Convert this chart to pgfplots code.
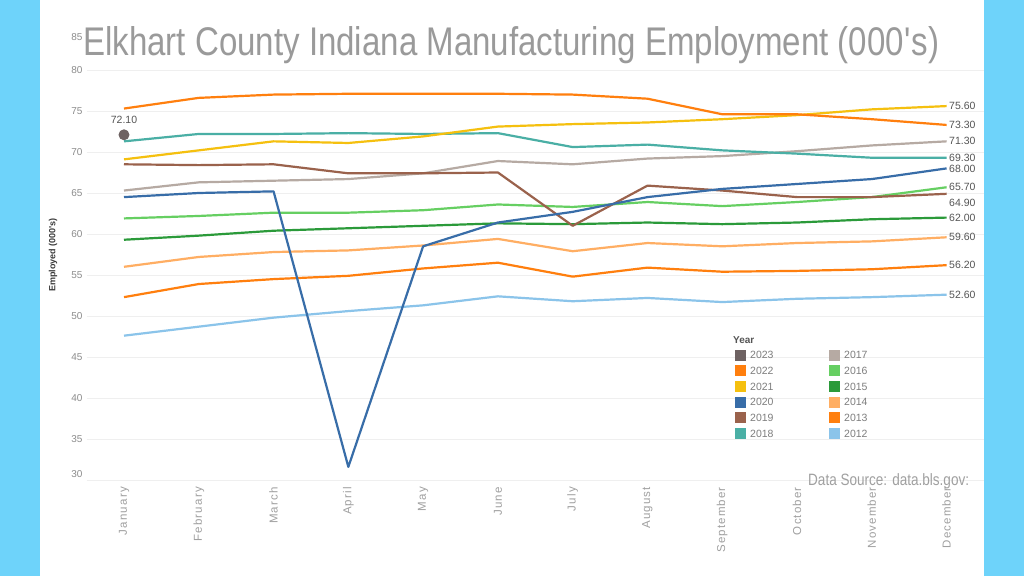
\documentclass[border=0pt]{standalone}
\usepackage{pgfplots}
\pgfplotsset{compat=1.18}
\usepackage{fontspec}
\setmainfont{Liberation Sans}
\newfontfamily\narrowfont[FakeStretch=0.826]{Liberation Sans}
\newfontfamily\monthfont[LetterSpace=10]{Liberation Sans}

\definecolor{frame}{HTML}{6ED3FA}
\definecolor{gridgray}{HTML}{EFEFEF}
\definecolor{tickgray}{HTML}{8C8C8C}
\definecolor{monthgray}{HTML}{A0A0A0}
\definecolor{titlegray}{HTML}{9A9A9A}
\definecolor{labelgray}{HTML}{555555}
\definecolor{c2023}{HTML}{6E6262}
\definecolor{c2022}{HTML}{FF7F0E}
\definecolor{c2021}{HTML}{F5C00F}
\definecolor{c2020}{HTML}{386DA8}
\definecolor{c2019}{HTML}{9A624C}
\definecolor{c2018}{HTML}{4AAFA5}
\definecolor{c2017}{HTML}{B6AAA3}
\definecolor{c2016}{HTML}{66CF62}
\definecolor{c2015}{HTML}{2B9A3A}
\definecolor{c2014}{HTML}{FFAE63}
\definecolor{c2013}{HTML}{FF7F0E}
\definecolor{c2012}{HTML}{8BC4EA}

\newcommand{\lblfont}{\fontsize{10.5}{12}\selectfont}

\begin{document}
\begin{tikzpicture}[x=1pt,y=1pt]
\useasboundingbox (0,0) rectangle (1024,576);
\fill[frame] (0,0) rectangle (1024,576);
\fill[white] (40,0) rectangle (984,576);

\begin{axis}[
    at={(86.6pt,96pt)}, anchor=south west,
    scale only axis, width=897.4pt, height=451pt,
    xmin=-0.5, xmax=11.5, ymin=30, ymax=85,
    axis line style={draw=none},
    major tick length=0pt,
    ymajorgrids,
    grid style={draw=gridgray, line width=0.8pt},
    xtick={0,...,11},
    xticklabels={January,February,March,April,May,June,July,August,September,October,November,December},
    xticklabel style={rotate=90, anchor=east, inner sep=0pt,
        font=\monthfont\fontsize{11.5}{13}\selectfont, text=monthgray},
    xticklabel shift=7pt,
    ytick={30,35,...,80},
    yticklabels={,35,40,45,50,55,60,65,70,75,80},
    extra y ticks={85},
    extra y tick labels={85},
    extra y tick style={grid=none, yticklabel style={yshift=-8pt}},
    yticklabel style={font=\fontsize{10}{12}\selectfont, text=tickgray, inner sep=0pt},
    yticklabel shift=4pt,
    every axis plot/.append style={line width=2.2pt, line join=round},
    clip=false,
]

% 2012
\addplot[c2012] coordinates {
 (0,47.6) (1,48.7) (2,49.8) (3,50.6) (4,51.3) (5,52.4)
 (6,51.8) (7,52.2) (8,51.7) (9,52.1) (10,52.3) (11,52.6)
} node[pos=1, anchor=west, inner sep=1.5pt, font=\lblfont, text=labelgray] {52.60};
% 2013
\addplot[c2013] coordinates {
 (0,52.3) (1,53.9) (2,54.5) (3,54.9) (4,55.8) (5,56.5)
 (6,54.8) (7,55.9) (8,55.4) (9,55.5) (10,55.7) (11,56.2)
} node[pos=1, anchor=west, inner sep=1.5pt, font=\lblfont, text=labelgray] {56.20};
% 2014
\addplot[c2014] coordinates {
 (0,56.0) (1,57.2) (2,57.8) (3,58.0) (4,58.6) (5,59.4)
 (6,57.9) (7,58.9) (8,58.5) (9,58.9) (10,59.1) (11,59.6)
} node[pos=1, anchor=west, inner sep=1.5pt, font=\lblfont, text=labelgray] {59.60};
% 2015
\addplot[c2015] coordinates {
 (0,59.3) (1,59.8) (2,60.4) (3,60.7) (4,61.0) (5,61.3)
 (6,61.2) (7,61.4) (8,61.2) (9,61.4) (10,61.8) (11,62.0)
} node[pos=1, anchor=west, inner sep=1.5pt, font=\lblfont, text=labelgray] {62.00};
% 2016
\addplot[c2016] coordinates {
 (0,61.9) (1,62.2) (2,62.6) (3,62.6) (4,62.9) (5,63.6)
 (6,63.3) (7,63.9) (8,63.4) (9,63.9) (10,64.5) (11,65.7)
} node[pos=1, anchor=west, inner sep=1.5pt, font=\lblfont, text=labelgray] {65.70};
% 2017
\addplot[c2017] coordinates {
 (0,65.3) (1,66.3) (2,66.5) (3,66.7) (4,67.4) (5,68.9)
 (6,68.5) (7,69.2) (8,69.5) (9,70.1) (10,70.8) (11,71.3)
} node[pos=1, anchor=west, inner sep=1.5pt, font=\lblfont, text=labelgray] {71.30};
% 2018
\addplot[c2018] coordinates {
 (0,71.3) (1,72.2) (2,72.2) (3,72.3) (4,72.2) (5,72.3)
 (6,70.6) (7,70.9) (8,70.2) (9,69.8) (10,69.3) (11,69.3)
} node[pos=1, anchor=west, inner sep=1.5pt, font=\lblfont, text=labelgray] {69.30};
% 2019
\addplot[c2019] coordinates {
 (0,68.5) (1,68.4) (2,68.5) (3,67.4) (4,67.4) (5,67.5)
 (6,61.0) (7,65.9) (8,65.3) (9,64.5) (10,64.5) (11,64.9)
} node[pos=1, anchor=west, inner sep=1.5pt, yshift=-9pt, font=\lblfont, text=labelgray] {64.90};
% 2020
\addplot[c2020] coordinates {
 (0,64.5) (1,65.0) (2,65.2) (3,31.6) (4,58.5) (5,61.4)
 (6,62.7) (7,64.5) (8,65.5) (9,66.1) (10,66.7) (11,68.0)
} node[pos=1, anchor=west, inner sep=1.5pt, font=\lblfont, text=labelgray] {68.00};
% 2021
\addplot[c2021] coordinates {
 (0,69.1) (1,70.2) (2,71.3) (3,71.1) (4,71.9) (5,73.1)
 (6,73.4) (7,73.6) (8,74.0) (9,74.5) (10,75.2) (11,75.6)
} node[pos=1, anchor=west, inner sep=1.5pt, font=\lblfont, text=labelgray] {75.60};
% 2022
\addplot[c2022] coordinates {
 (0,75.3) (1,76.6) (2,77.0) (3,77.1) (4,77.1) (5,77.1)
 (6,77.0) (7,76.5) (8,74.6) (9,74.6) (10,74.0) (11,73.3)
} node[pos=1, anchor=west, inner sep=1.5pt, font=\lblfont, text=labelgray] {73.30};
% 2023 (January only)
\addplot[c2023, only marks, mark=*, mark size=4.3pt,
    nodes near coords, point meta=explicit symbolic,
    every node near coord/.append style={font=\lblfont, text=labelgray, yshift=7pt}]
  coordinates {(0,72.1)[72.10]};

\node[anchor=east, inner sep=0pt, font=\fontsize{10}{12}\selectfont, text=tickgray]
  at (rel axis cs:0,0) [xshift=-4pt, yshift=6pt] {30};
\end{axis}

% y label
\node[rotate=90, font=\bfseries\fontsize{9}{11}\selectfont, text=labelgray!70!black]
  at (53,321) {Employed (000\textquotesingle s)};

% title
\node[anchor=base west, inner sep=0pt, text=titlegray,
  font=\narrowfont\fontsize{40}{48}\selectfont]
  at (83,520) {Elkhart County Indiana Manufacturing Employment (000\textquotesingle s)};

% source
\node[anchor=base west, inner sep=0pt, text=monthgray,
  font=\narrowfont\fontsize{16.4}{19}\selectfont]
  at (808,91) {Data Source: data.bls.gov:};

% legend
\node[anchor=west, inner sep=0pt, font=\bfseries\fontsize{10}{12}\selectfont, text=labelgray]
  at (733,236) {Year};
\foreach \yr/\row in {2023/0,2022/1,2021/2,2020/3,2019/4,2018/5}{
  \fill[fill=c\yr] ({735},{221-15.7*\row-5.5}) rectangle ++(11,11);
  \node[anchor=west, inner sep=0pt, font=\fontsize{10.5}{12}\selectfont, text=tickgray!90!black]
    at ({750},{221-15.7*\row}) {\yr};
}
\foreach \yr/\row in {2017/0,2016/1,2015/2,2014/3,2013/4,2012/5}{
  \fill[fill=c\yr] ({829},{221-15.7*\row-5.5}) rectangle ++(11,11);
  \node[anchor=west, inner sep=0pt, font=\fontsize{10.5}{12}\selectfont, text=tickgray!90!black]
    at ({844},{221-15.7*\row}) {\yr};
}
\end{tikzpicture}
\end{document}
